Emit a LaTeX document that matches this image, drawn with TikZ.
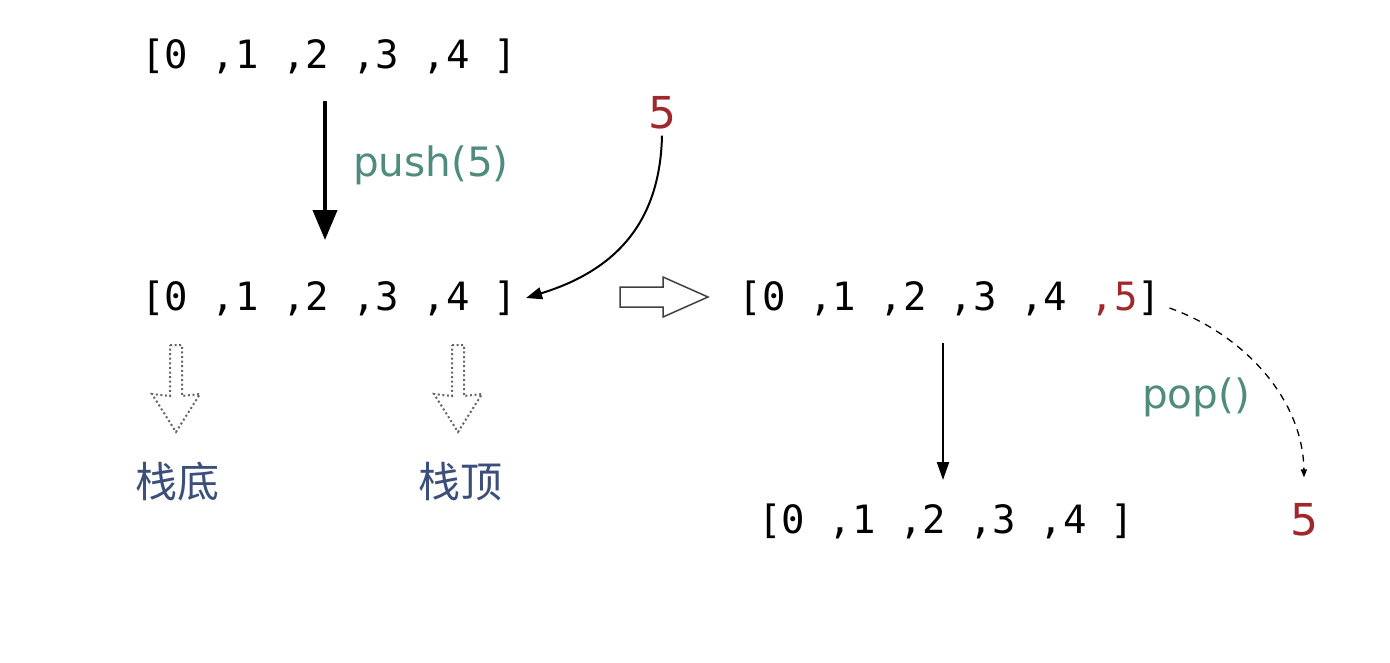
\documentclass[tikz,border=0pt]{standalone}
\usepackage{fontspec}
\setmainfont{DejaVu Sans}
\setmonofont{DejaVu Sans Mono}
\newfontfamily\cjk{Noto Sans CJK SC}
\usetikzlibrary{arrows.meta}
\definecolor{redfive}{HTML}{A0282D}
\definecolor{opgreen}{HTML}{4F8C7E}
\definecolor{lblblue}{HTML}{3B4F7A}
\tikzset{
  lst/.style={inner sep=0pt, font=\ttfamily\fontsize{39}{40}\selectfont},
  opl/.style={inner sep=0pt, text=opgreen, font=\fontsize{40.5}{42}\selectfont},
  val/.style={inner sep=0pt, text=redfive, font=\fontsize{44}{46}\selectfont},
  lbl/.style={inner sep=0pt, text=lblblue, font=\cjk\fontsize{42}{44}\selectfont},
  bigarrow/.style={line width=4pt, -{Triangle[length=30pt,width=24pt]}},
  thinarrow/.style={line width=2pt, -{Triangle[length=18pt,width=12pt]}},
  curvearrow/.style={line width=2pt, -{Triangle[length=16pt,width=12pt]}},
  dasharrow/.style={line width=1.3pt, dash pattern=on 7pt off 6pt, -{Triangle[length=8pt,width=6pt]}},
  hollow/.style={draw=black!75, line width=1.5pt, fill=white},
  dotarrow/.style={draw=black!60, line width=2pt, dash pattern=on 2pt off 2.6pt}
}
\begin{document}
\begin{tikzpicture}[x=1pt,y=-1pt]
\useasboundingbox[fill=white] (0,0) rectangle (1390,662);

\node[lst] (lst1) at (329,56) {[0 ,1 ,2 ,3 ,4 ]};
\node[lst] (lst2) at (329,298) {[0 ,1 ,2 ,3 ,4 ]};
\node[lst] (lst3) at (950,298) {[0 ,1 ,2 ,3 ,4 {\color{redfive},5}]};
\node[lst] (lst4) at (946,521) {[0 ,1 ,2 ,3 ,4 ]};

\node[opl] (push) at (431,165) {push(5)};
\node[opl] (pop) at (1196,397) {pop()};
\node[val] (fiveA) at (662,113) {5};
\node[val] (fiveB) at (1304,520) {5};

\node[lbl] (bottom) at (177,482) {栈底};
\node[lbl] (top) at (460,482) {栈顶};

% push arrow
\draw[bigarrow] ([xshift=-4pt]lst1.south) ++(0,27) coordinate (pa) -- (pa |- 0,240) coordinate (pb);
% 5 into list
\coordinate (lst2tip) at ([xshift=9pt]lst2.east);
\draw[curvearrow] ([yshift=-6pt]fiveA.south) .. controls (660,228) and (610,272) .. (lst2tip);

% hollow right arrow
\draw[hollow] (620,287) -- (663,287) -- (663,277) -- (708,297) -- (663,317) -- (663,307) -- (620,307) -- cycle;

% pop arrows
\coordinate (pc) at ([xshift=-7pt,yshift=-27pt]lst3.south);
\draw[thinarrow] (pc) -- (pc |- 0,480);
\coordinate (dstart) at ([xshift=8pt,yshift=-10pt]lst3.east);
\coordinate (dend) at ([yshift=26pt]fiveB.north);
\draw[dasharrow] (dstart) .. controls (1245,335) and (1303,400) .. (dend);

% dotted hollow down arrows
\foreach \cx in {176,458}{
  \draw[dotarrow] (\cx-6,345) -- (\cx+6,345) -- (\cx+6,396) -- (\cx+24,394) -- (\cx,432) -- (\cx-24,394) -- (\cx-6,396) -- cycle;
}
\end{tikzpicture}
\end{document}
